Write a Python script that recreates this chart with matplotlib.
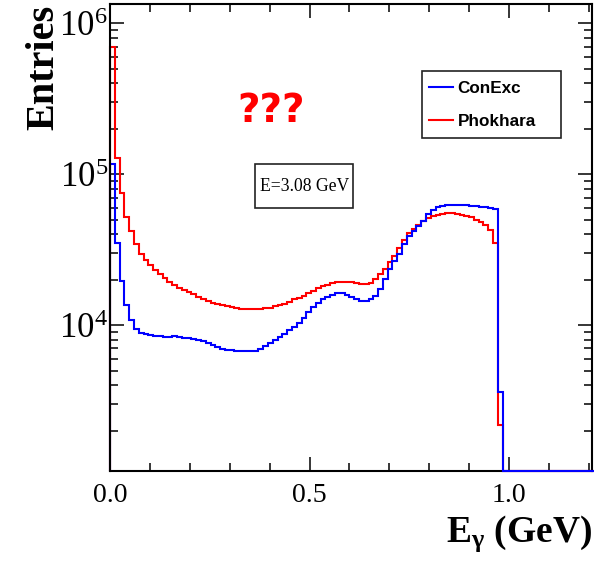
import numpy as np
import matplotlib
matplotlib.use("Agg")
import matplotlib.pyplot as plt
from matplotlib.patches import Rectangle
from matplotlib.ticker import LogLocator, MultipleLocator, FuncFormatter, NullFormatter

# Photon energy spectrum, 0.012 GeV bins from 0 to 1.212 GeV
bin_width = 0.012
e_min, e_max = 0.0, 1.212

conexc = [
    116000, 35100, 19700, 13600, 10800, 9400, 8800, 8670, 8580, 8500,
    8420, 8330, 8300, 8420, 8330, 8160, 8160, 8080, 7960, 7800,
    7630, 7370, 7150, 6990, 6880, 6830, 6780, 6760, 6760, 6760,
    6780, 6940, 7260, 7660, 7950, 8330, 8720, 9270, 9770, 10300,
    11100, 12200, 13200, 14000, 14800, 15400, 15900, 16200, 16200, 15900,
    15400, 15000, 14500, 14400, 14900, 15600, 17300, 20200, 23500, 26500,
    29500, 34400, 38900, 41900, 45300, 48800, 54400, 57800, 60500, 61900,
    62600, 62800, 62800, 62600, 62300, 61900, 61400, 60900, 60200, 59500,
    58600, 3620, 0, 0, 0, 0, 0, 0, 0, 0,
    0, 0, 0, 0, 0, 0, 0, 0, 0, 0,
    0,
]

phokhara = [
    697000, 128000, 74500, 52200, 41900, 34200, 29800, 26900, 25000, 23100,
    21800, 20400, 19400, 18400, 17700, 17100, 16500, 16000, 15400, 14900,
    14400, 14100, 13800, 13500, 13300, 13100, 13000, 12800, 12800, 12800,
    12800, 12800, 12900, 13000, 13300, 13600, 13900, 14300, 14800, 15200,
    15700, 16300, 16900, 17600, 18100, 18500, 19000, 19300, 19400, 19400,
    19300, 19100, 18800, 18700, 19100, 20200, 21800, 23700, 26100, 28600,
    32600, 36600, 40700, 43600, 46000, 48800, 51500, 53100, 53900, 54400,
    54900, 54900, 54800, 53500, 52700, 51900, 50000, 48100, 46000, 42900,
    34900, 2180, 0, 0, 0, 0, 0, 0, 0, 0,
    0, 0, 0, 0, 0, 0, 0, 0, 0, 0,
    0,
]

labels = ["ConExc", "Phokhara"]
colors = {"ConExc": "#0000ff", "Phokhara": "#ff0000"}

x_range = (0.0, 1.208)
y_range = (1080, 1.34e6)

plt.rcParams["font.family"] = "Liberation Serif"
plt.rcParams["mathtext.fontset"] = "custom"
plt.rcParams["mathtext.rm"] = "Liberation Serif"
plt.rcParams["mathtext.it"] = "Liberation Serif:italic"
plt.rcParams["mathtext.bf"] = "Liberation Serif:bold"

W, H = 605, 563
fig = plt.figure(figsize=(W / 100, H / 100), dpi=100)
ax_l, ax_r, ax_t, ax_b = 110, 592, 4, 471
ax = fig.add_axes([ax_l / W, 1 - ax_b / H, (ax_r - ax_l) / W, (ax_b - ax_t) / H])

edges = np.arange(e_min, e_max + bin_width / 2, bin_width)
floor = y_range[0]

# empty bins sit on the lower frame edge, as in ROOT log-scale histograms
h_pho = ax.stairs(np.where(np.array(phokhara) > 0, phokhara, floor), edges,
                  baseline=floor, color=colors["Phokhara"], lw=1.5, label="Phokhara",
                  zorder=3, clip_on=False)
h_con = ax.stairs(np.where(np.array(conexc) > 0, conexc, floor), edges,
                  baseline=floor, color=colors["ConExc"], lw=1.5, label="ConExc",
                  zorder=3.1, clip_on=False)

ax.set_yscale("log")
ax.set_xlim(*x_range)
ax.set_ylim(*y_range)

for s in ax.spines.values():
    s.set_linewidth(1.5)
ax.spines["left"].set_zorder(4)

ax.xaxis.set_major_locator(MultipleLocator(0.5))
ax.xaxis.set_minor_locator(MultipleLocator(0.1))
ax.xaxis.set_major_formatter(FuncFormatter(lambda v, p: f"{v:.1f}"))
ax.yaxis.set_major_locator(LogLocator(base=10, numticks=10))
ax.yaxis.set_minor_locator(LogLocator(base=10, subs=np.arange(2, 10), numticks=20))
ax.yaxis.set_minor_formatter(NullFormatter())
ax.yaxis.set_major_formatter(FuncFormatter(lambda v, p: r"$\mathregular{10^{%d}}$" % round(np.log10(v))))

ax.tick_params(which="both", direction="in", top=True, right=True, width=1.1, colors="black")
ax.tick_params(which="major", length=10)
ax.tick_params(which="minor", length=5.5)
ax.tick_params(axis="x", which="major", labelsize=20, pad=8.5)
ax.tick_params(axis="y", which="major", labelsize=25, pad=1.5)

ax.set_ylabel("Entries", fontsize=29, fontweight="bold", loc="top")
ax.yaxis.label.set_va("center")
ax.yaxis.set_label_coords((44 - ax_l) / (ax_r - ax_l), 1.0 - 1 / (ax_b - ax_t))

ax.set_xlabel(r"$\mathbf{E_{\gamma}}$ (GeV)", fontsize=27, fontweight="bold", loc="right")
ax.xaxis.label.set_va("baseline")
ax.xaxis.set_label_coords(1.0, (ax_b - 541.7) / (ax_b - ax_t))

# legend frame and entries
lx0, ly0, lx1, ly1 = 421.7, 70.7, 561.0, 138.3
ax.add_patch(Rectangle((lx0 / W, 1 - ly1 / H), (lx1 - lx0) / W, (ly1 - ly0) / H,
                       transform=fig.transFigure, fill=True, fc="white",
                       ec="#222222", lw=1.2, zorder=5, clip_on=False))
leg = ax.legend(handles=[h_con, h_pho], labels=labels, loc="upper left",
                bbox_to_anchor=((lx0 - 3) / W, 1 - ly0 / H), bbox_transform=fig.transFigure,
                frameon=False, borderpad=0.58, borderaxespad=0, handlelength=1.4,
                handletextpad=0.3, labelspacing=1.1,
                prop={"family": "Liberation Sans", "weight": "bold", "size": 12.3})
for line in leg.get_lines():
    line.set_linewidth(1.5)
leg.set_zorder(6)

# energy info box
bx0, by0, bx1, by1 = 255.0, 164.3, 353.3, 208.3
ax.add_patch(Rectangle((bx0 / W, 1 - by1 / H), (bx1 - bx0) / W, (by1 - by0) / H,
                       transform=fig.transFigure, fill=True, fc="white",
                       ec="#222222", lw=1.2, zorder=5, clip_on=False))
ax.text((bx0 + bx1) / 2 / W, 1 - (by0 + by1) / 2 / H, "E=3.08 GeV", fontsize=12.7,
        ha="center", va="center", zorder=6, transform=fig.transFigure)

ax.text(271 / W, 1 - 111 / H, "???", color="#ff0000", fontsize=28,
        family="DejaVu Sans", fontweight="bold", ha="center", va="center",
        transform=fig.transFigure)

fig.savefig("out.png", dpi=100)
